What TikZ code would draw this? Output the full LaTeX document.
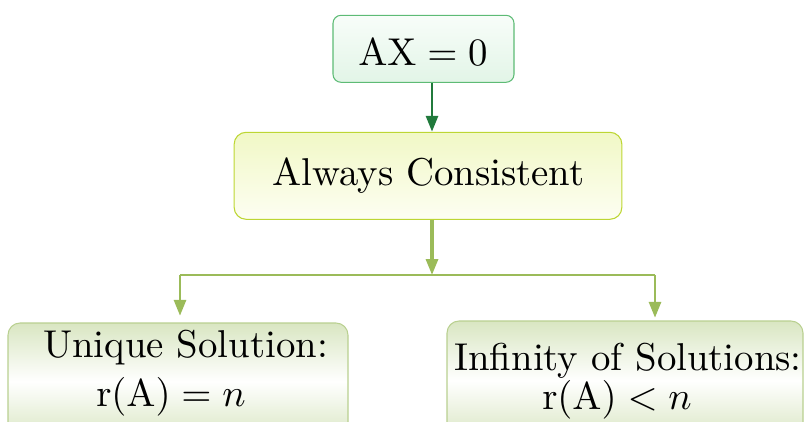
\documentclass[tikz,border=0pt]{standalone}
\usepackage{graphicx}
\usetikzlibrary{arrows.meta}
\definecolor{topborder}{HTML}{5DBB75}
\definecolor{topfillA}{HTML}{F8FDF9}
\definecolor{topfillB}{HTML}{E2F5E7}
\definecolor{darkarrow}{HTML}{217A3C}
\definecolor{midborder}{HTML}{BDD633}
\definecolor{midfillA}{HTML}{F1F8C6}
\definecolor{midfillB}{HTML}{FDFEF2}
\definecolor{lightarrow}{HTML}{9BBB59}
\definecolor{botborder}{HTML}{B9D090}
\definecolor{botfill}{HTML}{D9E6C2}
\newcommand{\bigtxt}[1]{\scalebox{2.91}{\fontsize{10}{12}\selectfont #1}}
\tikzset{
  boxbase/.style={draw, line width=0.8pt, inner sep=0pt},
  topbox/.style={boxbase, draw=topborder, top color=topfillA, bottom color=topfillB, rounded corners=6pt},
  midbox/.style={boxbase, draw=midborder, top color=midfillA, bottom color=midfillB, rounded corners=9pt},
  botbox/.style={boxbase, draw=botborder, top color=botfill, bottom color=botfill, middle color=white, rounded corners=9pt},
  txt/.style={anchor=base, inner sep=0pt},
  darkarr/.style={draw=darkarrow, line width=2.2pt, -{Triangle[length=12pt,width=9pt]}},
  lightarr/.style={draw=lightarrow, line width=2.2pt, -{Triangle[length=12pt,width=9pt]}},
  lightline/.style={draw=lightarrow, line width=1.1pt},
}
\begin{document}
\begin{tikzpicture}[x=0.75pt,y=-0.75pt]
\useasboundingbox (0,0) rectangle (806,421);
\clip (0,0) rectangle (806,421);
\node[topbox, minimum width=135.75pt, minimum height=50.25pt] (top) at (423.5,48.8) {};
\node[midbox, minimum width=290.8pt, minimum height=65.25pt] (mid) at (428,175.8) {};
\node[botbox, minimum width=255pt, minimum height=87.75pt] (left) at (178,381.5) {};
\node[botbox, minimum width=267pt, minimum height=89.25pt] (right) at (625,380.5) {};
\node[txt] (toptxt) at (423,65.7) {\bigtxt{$\mathrm{AX}=0$}};
\node[txt] (midtxt) at (428.5,185.7) {\bigtxt{Always Consistent}};
\node[txt] (lefttxtA) at (185.5,357) {\bigtxt{Unique Solution:}};
\node[txt] (lefttxtB) at (171,406) {\bigtxt{$\mathrm{r}(\mathrm{A})=n$}};
\node[txt] (righttxtA) at (628,370) {\bigtxt{Infinity of Solutions:}};
\node[txt] (righttxtB) at (617,409) {\bigtxt{$\mathrm{r}(\mathrm{A})<n$}};
\coordinate (ax) at (432,0);
\coordinate (j) at (432,275);
\coordinate (jl) at (180,275);
\coordinate (jr) at (655,275);
\draw[darkarr] (top.south -| ax) -- (mid.north -| ax);
\draw[lightarr, line width=2.4pt] (mid.south -| ax) -- (j);
\draw[lightline] (jl) -- (jr);
\draw[lightarr, shorten >=5pt] (jl) -- (jl |- left.north);
\draw[lightarr, shorten >=2pt] (jr) -- (jr |- right.north);
\end{tikzpicture}
\end{document}
